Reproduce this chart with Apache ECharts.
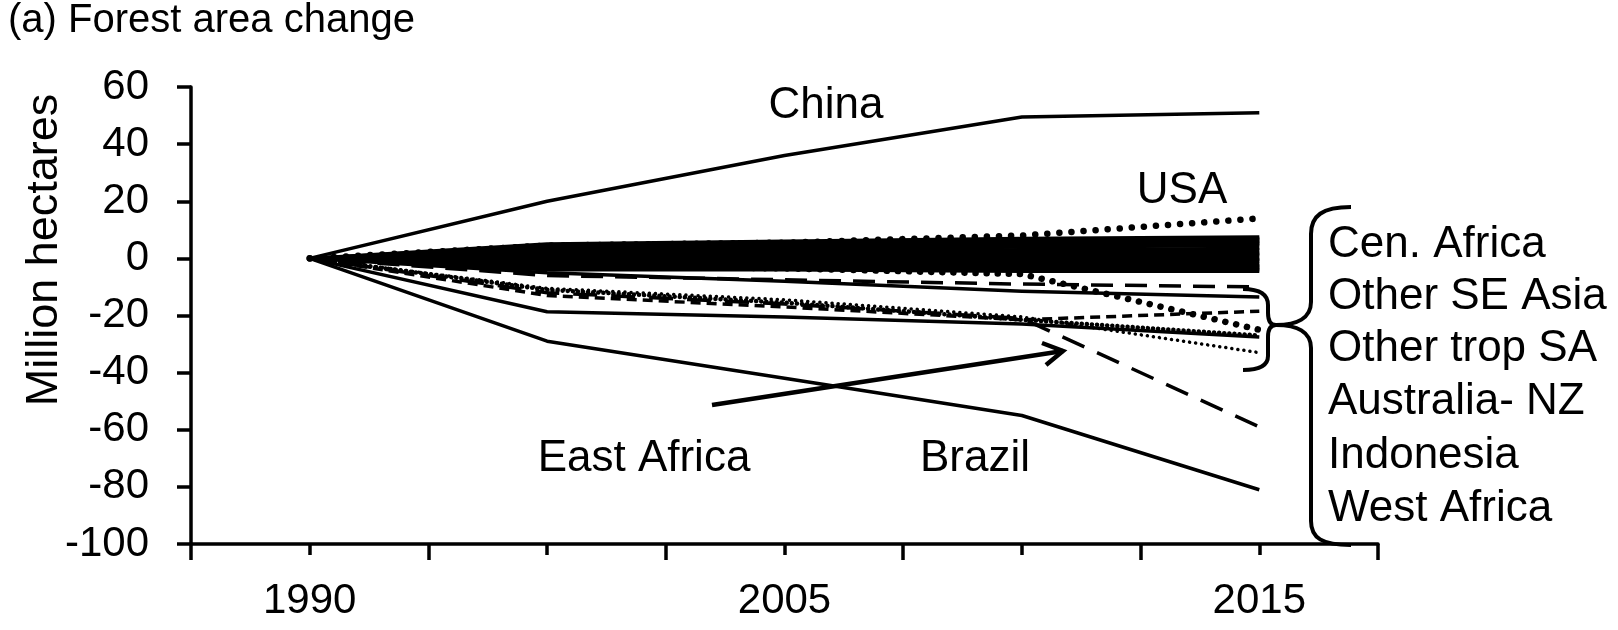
<!DOCTYPE html>
<html>
<head>
<meta charset="utf-8">
<script src="https://cdn.jsdelivr.net/npm/echarts@6/dist/echarts.min.js"></script>
<style>
  html, body { margin: 0; padding: 0; background: #fff; }
  #chart { width: 1618px; height: 630px; }
</style>
</head>
<body>
<div id="chart"></div>
<script>
// years on the category axis (only every other one is labelled)
var years = ['1990', '2000', '2005', '2010', '2015'];
var yTicks = { min: -100, max: 60, step: 20 };

// labelled regions
var china = [0, 20, 36, 49.5, 51];
var usa = [0, 4.5, 5.5, 8, 14];
var brazil = [0, -29, -42, -55, -81];
var eastAfrica = [0, -12, -16, -21, -59];

// the six regions grouped by the brace
var braceLongDash = [0, -6, -7.5, -9, -10];
var braceSolidA = [0, -5, -8, -11.5, -13.5];
var braceShortDash = [0, -13, -17, -21.5, -18.5];
var braceBigDots = [0, -2.5, -3.5, -5.5, -25];
var braceSolidB = [0, -18.7, -20.5, -23, -27.5];
var braceSmallDots = [0, -10.5, -14.5, -20.5, -33];
var braceHatched = [0, -11, -15.5, -21.5, -27];

// the many small regions forming the dark band around zero
var bandLines = [
    [0, 5, 6, 7, 7.5],
    [0, 4.5, 5.5, 6.5, 7],
    [0, 4, 5, 6, 6.5],
    [0, 3.5, 4.5, 5.5, 6],
    [0, 3, 4, 5, 5.5],
    [0, 2.5, 3.5, 4.5, 5],
    [0, 2, 3, 4, 4.5],
    [0, 1.5, 2.5, 3, 3.5],
    [0, 1, 2, 2.5, 3],
    [0, 1, 1.5, 2, 2],
    [0, 0.5, 1, 1, 1.5],
    [0, 0, 0.5, 0.5, 1],
    [0, 0, 0, 0, 0],
    [0, -0.5, -0.5, -0.5, -0.5],
    [0, -1, -1, -1, -1],
    [0, -1.5, -1.5, -1.5, -2],
    [0, -2, -2, -2.5, -2.5],
    [0, -2.5, -2.5, -3, -3],
    [0, -3, -3, -3.5, -3.5],
    [0, -3.5, -3.5, -4, -4],
    [0, -4, -4, -4.5, -4.5]
];

var braceNames = ['Cen. Africa', 'Other SE Asia', 'Other trop SA', 'Australia- NZ', 'Indonesia', 'West Africa'];

var FONT = "'Liberation Sans', Arial, sans-serif";

function line(data, width, type, cap) {
    return {
        type: 'line',
        data: data,
        symbol: 'none',
        silent: true,
        lineStyle: {
            color: '#000',
            width: width,
            type: type || 'solid',
            cap: cap || 'butt',
            join: 'round'
        }
    };
}

var series = [];
for (var i = 0; i < bandLines.length; i++) {
    series.push(line(bandLines[i], 3.5));
}
series.push(line(china, 3.5));
series.push(line(brazil, 3.5));
series.push(line(braceSolidA, 3.5));
series.push(line(braceSolidB, 3.5));
series.push(line(braceLongDash, 3.5, [22, 12]));
series.push(line(braceShortDash, 3.5, [10, 6]));
series.push(line(eastAfrica, 3.5, [24, 14]));
series.push(line(braceHatched, 4.5, [0.1, 5], 'round'));
series.push(line(braceSmallDots, 3.5, [0.1, 6], 'round'));
series.push(line(braceBigDots, 6.5, [0.1, 11], 'round'));
series.push(line(usa, 6.5, [0.1, 12], 'round'));

function txt(text, x, y, size, align) {
    return {
        type: 'text',
        x: x,
        y: y,
        silent: true,
        style: {
            text: text,
            fill: '#000',
            fontSize: size,
            fontFamily: FONT,
            align: align || 'center',
            verticalAlign: 'middle'
        }
    };
}

var stroke = { stroke: '#000', lineWidth: 4, fill: null };

function seg(a, b) {
    return { type: 'line', silent: true, shape: { x1: a[0], y1: a[1], x2: b[0], y2: b[1] }, style: stroke };
}
function curve(a, c1, c2, b) {
    return {
        type: 'bezierCurve', silent: true,
        shape: { x1: a[0], y1: a[1], cpx1: c1[0], cpy1: c1[1], cpx2: c2[0], cpy2: c2[1], x2: b[0], y2: b[1] },
        style: stroke
    };
}

var graphics = [
    txt('(a) Forest area change', 8, 21, 40, 'left'),
    txt('China', 826, 106, 44),
    txt('USA', 1182, 191, 44),
    txt('East Africa', 644, 459, 44),
    txt('Brazil', 975, 459, 44),
    {
        type: 'text', x: 45, y: 250, rotation: Math.PI / 2, silent: true,
        style: { text: 'Million hectares', fill: '#000', fontSize: 45, fontFamily: FONT, align: 'center', verticalAlign: 'middle' }
    },
    // arrow from the East Africa label
    { type: 'polyline', silent: true, shape: { points: [[712, 405], [1063, 351]] }, style: { stroke: '#000', lineWidth: 4.5, fill: null } },
    { type: 'polyline', silent: true, shape: { points: [[1042, 343], [1063, 351], [1046, 365]] }, style: { stroke: '#000', lineWidth: 4.5, fill: null } },
    // big brace
    curve([1351, 207], [1322, 207], [1311, 216], [1311, 234]),
    seg([1311, 234], [1311, 302]),
    curve([1311, 302], [1311, 318], [1297, 325], [1276, 325]),
    curve([1276, 325], [1297, 325], [1311, 332], [1311, 348]),
    seg([1311, 348], [1311, 521]),
    curve([1311, 521], [1311, 538], [1322, 545], [1351, 545]),
    // small brace
    curve([1243, 289], [1260, 289], [1268, 295], [1268, 305]),
    seg([1268, 305], [1268, 313]),
    curve([1268, 313], [1268, 321], [1271, 325], [1276, 325]),
    curve([1276, 325], [1271, 325], [1268, 329], [1268, 337]),
    seg([1268, 337], [1268, 356]),
    curve([1268, 356], [1268, 365], [1260, 370], [1243, 370])
];
var braceY = [245, 297, 349, 402, 456, 509];
for (var j = 0; j < braceNames.length; j++) {
    graphics.push(txt(braceNames[j], 1328, braceY[j], 44, 'left'));
}

var chart = echarts.init(document.getElementById('chart'), null, { renderer: 'canvas' });
chart.setOption({
    animation: false,
    backgroundColor: '#fff',
    grid: { left: 191, top: 87, width: 1187, height: 457, containLabel: false },
    xAxis: [
        {
            type: 'category',
            data: years,
            boundaryGap: true,
            axisLine: { show: true, onZero: false, lineStyle: { color: '#000', width: 3.5 } },
            axisTick: { show: true, interval: 0, length: 16, lineStyle: { color: '#000', width: 3.5 } },
            axisLabel: { interval: 1, margin: 36, color: '#000', fontSize: 42, fontFamily: FONT },
            splitLine: { show: false }
        },
        {
            type: 'category',
            data: years,
            position: 'bottom',
            boundaryGap: true,
            axisLine: { show: false, onZero: false },
            axisTick: { show: true, interval: 0, alignWithLabel: true, length: 11, lineStyle: { color: '#000', width: 3.5 } },
            axisLabel: { show: false, interval: 0 },
            splitLine: { show: false }
        }
    ],
    yAxis: {
        type: 'value',
        min: yTicks.min,
        max: yTicks.max,
        interval: yTicks.step,
        axisLine: { show: true, lineStyle: { color: '#000', width: 3.5 } },
        axisTick: { show: true, length: 14, lineStyle: { color: '#000', width: 3.5 } },
        axisLabel: { margin: 42, color: '#000', fontSize: 42, fontFamily: FONT },
        splitLine: { show: false }
    },
    series: series,
    graphic: graphics
});
</script>
</body>
</html>
